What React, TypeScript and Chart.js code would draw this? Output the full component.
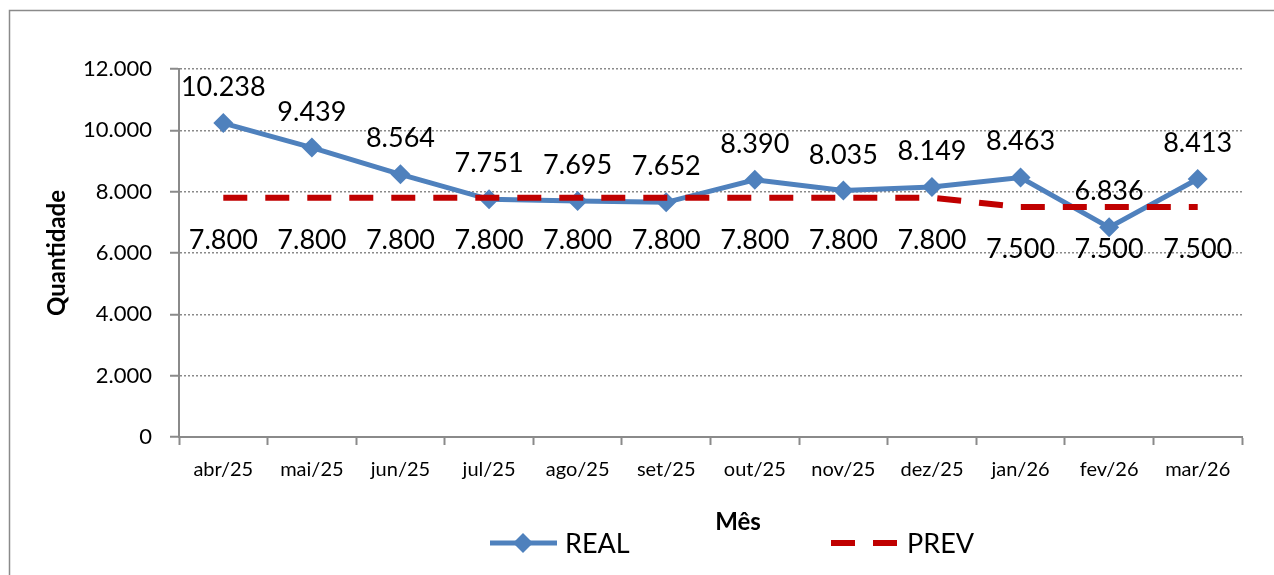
import { useEffect, useRef } from 'react';
import { Chart, registerables } from 'chart.js';

Chart.register(...registerables);

const months = ['abr/25', 'mai/25', 'jun/25', 'jul/25', 'ago/25', 'set/25', 'out/25', 'nov/25', 'dez/25', 'jan/26', 'fev/26', 'mar/26'];
const realValues = [10238, 9439, 8564, 7751, 7695, 7652, 8390, 8035, 8149, 8463, 6836, 8413];
const prevValues = [7800, 7800, 7800, 7800, 7800, 7800, 7800, 7800, 7800, 7500, 7500, 7500];
const seriesNames = ['REAL', 'PREV'];
const yMin = 0;
const yMax = 12000;
const yStep = 2000;
const xAxisTitle = 'Mês';
const yAxisTitle = 'Quantidade';

const BLUE = '#4F81BD';
const RED = '#C00000';
const GRAY = '#8a8a8a';
const FONT = 'Lato';

const fmt = (v: number) => String(v).replace(/\B(?=(\d{3})+(?!\d))/g, '.');

const valueLabels = {
  id: 'valueLabels',
  afterDatasetsDraw(chart: any) {
    const ctx = chart.ctx;
    ctx.save();
    ctx.font = `27px ${FONT}`;
    ctx.fillStyle = '#000';
    ctx.textAlign = 'center';
    ctx.textBaseline = 'alphabetic';
    chart.data.datasets.forEach((ds: any, i: number) => {
      const meta = chart.getDatasetMeta(i);
      meta.data.forEach((pt: any, j: number) => {
        const off = i === 0 ? -27 : 51;
        ctx.fillText(fmt(ds.data[j]), pt.x, pt.y + off);
      });
    });
    ctx.restore();
  },
};

const decorations = {
  id: 'decorations',
  beforeDraw(chart: any) {
    const ctx = chart.ctx;
    ctx.save();
    ctx.strokeStyle = GRAY;
    ctx.lineWidth = 1.5;
    ctx.strokeRect(9.5, 10.5, 1300, 700);
    ctx.restore();
  },
  afterDraw(chart: any) {
    const ctx = chart.ctx;
    const ds = chart.data.datasets;
    ctx.save();
    ctx.fillStyle = '#000';
    ctx.font = `bold 24px ${FONT}`;
    ctx.textAlign = 'center';
    ctx.textBaseline = 'middle';
    ctx.fillText(xAxisTitle, 738, 522);

    const ly = 543;
    ctx.strokeStyle = ds[0].borderColor;
    ctx.lineWidth = ds[0].borderWidth;
    ctx.beginPath();
    ctx.moveTo(490, ly);
    ctx.lineTo(557, ly);
    ctx.stroke();
    ctx.fillStyle = ds[0].pointBackgroundColor;
    ctx.beginPath();
    const r = 10;
    ctx.moveTo(523, ly - r);
    ctx.lineTo(523 + r, ly);
    ctx.lineTo(523, ly + r);
    ctx.lineTo(523 - r, ly);
    ctx.closePath();
    ctx.fill();
    ctx.fillStyle = '#000';
    ctx.font = `27px ${FONT}`;
    ctx.textAlign = 'left';
    ctx.fillText(ds[0].label, 565, ly + 1);

    ctx.strokeStyle = ds[1].borderColor;
    ctx.lineWidth = ds[1].borderWidth;
    ctx.beginPath();
    ctx.moveTo(831, ly);
    ctx.lineTo(855, ly);
    ctx.moveTo(873, ly);
    ctx.lineTo(897, ly);
    ctx.stroke();
    ctx.fillStyle = '#000';
    ctx.fillText(ds[1].label, 907, ly + 1);
    ctx.restore();
  },
};

export default function App() {
  const ref = useRef<HTMLCanvasElement>(null);

  useEffect(() => {
    document.body.style.margin = '0';
    if (!ref.current) return;
    const chart = new Chart(ref.current, {
      type: 'line',
      data: {
        labels: months,
        datasets: [
          {
            label: seriesNames[0],
            data: realValues,
            borderColor: BLUE,
            backgroundColor: BLUE,
            pointBackgroundColor: BLUE,
            pointBorderColor: BLUE,
            borderWidth: 5,
            pointStyle: 'rectRot',
            pointRadius: 10,
            pointBorderWidth: 0,
            tension: 0,
            order: 1,
          },
          {
            label: seriesNames[1],
            data: prevValues,
            borderColor: RED,
            backgroundColor: RED,
            borderWidth: 6,
            borderDash: [24, 18],
            borderCapStyle: 'butt',
            pointRadius: 0,
            tension: 0,
            order: 0,
          },
        ],
      },
      options: {
        animation: false,
        responsive: true,
        maintainAspectRatio: false,
        layout: { padding: { left: 43, top: 69, right: 32, bottom: 0 } },
        plugins: {
          legend: { display: false },
          tooltip: { enabled: false },
        },
        scales: {
          x: {
            offset: true,
            grid: {
              offset: true,
              drawOnChartArea: false,
              tickLength: 8,
              tickColor: GRAY,
              tickWidth: 2,
            },
            border: { display: true, color: GRAY, width: 2 },
            ticks: {
              color: '#000',
              font: { family: FONT, size: 20 },
              padding: 13,
              maxRotation: 0,
            },
            afterFit(scale: any) {
              scale.height = 575 - 437;
            },
          },
          y: {
            min: yMin,
            max: yMax,
            ticks: {
              stepSize: yStep,
              color: '#000',
              font: { family: FONT, size: 22 },
              padding: 18,
              callback: (v: any) => fmt(Number(v)),
            },
            grid: {
              color: (c: any) => (c.tick && c.tick.value === 0 ? 'rgba(0,0,0,0)' : GRAY),
              lineWidth: 1.5,
              tickLength: 9,
              tickColor: GRAY,
              tickWidth: 2,
              tickBorderDash: [],
            } as any,
            border: { display: true, color: GRAY, width: 2, dash: [2, 2] },
            title: {
              display: true,
              text: yAxisTitle,
              color: '#000',
              font: { family: FONT, size: 24, weight: 'bold' },
              padding: { top: 0, bottom: 0 },
            },
            afterFit(scale: any) {
              scale.width = 179 - 43;
            },
          },
        },
      },
      plugins: [decorations, valueLabels],
    });
    return () => chart.destroy();
  }, []);

  return (
    <div style={{ position: 'absolute', left: 0, top: 0, width: 1274, height: 575 }}>
      <canvas ref={ref} />
    </div>
  );
}
